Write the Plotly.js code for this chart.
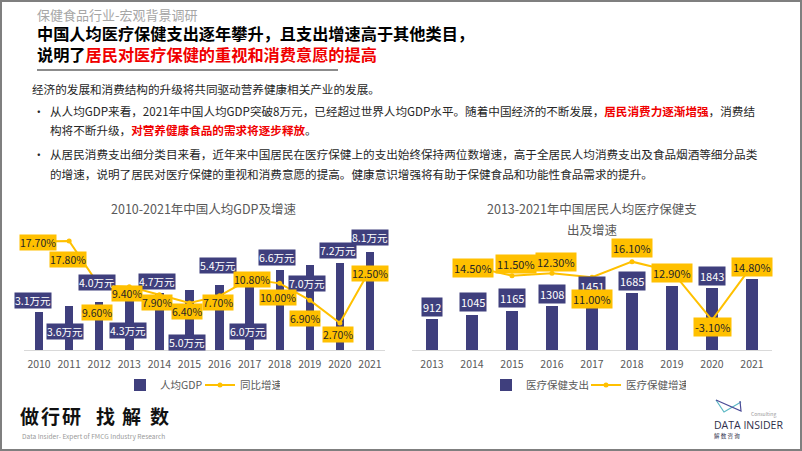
<!DOCTYPE html>
<html><head><meta charset="utf-8">
<script src="https://cdn.plot.ly/plotly-3.0.1.min.js"></script>
<style>html,body{margin:0;padding:0;background:#fff;}#chart{width:802px;height:451px;}</style>
</head><body><div id="chart"></div>
<script>
// ---------- data ----------
const yearsGdp = ['2010','2011','2012','2013','2014','2015','2016','2017','2018','2019','2020','2021'];
const gdpPerCapita = [3.1, 3.6, 4.0, 4.3, 4.7, 5.0, 5.4, 6.0, 6.6, 7.0, 7.2, 8.1];      // 万元
const gdpGrowth = [17.7, 17.8, 9.6, 9.4, 7.9, 6.4, 7.7, 10.8, 10.0, 6.9, 2.7, 12.5];   // %
const yearsMed = ['2013','2014','2015','2016','2017','2018','2019','2020','2021'];
const medSpend = [912, 1045, 1165, 1308, 1451, 1685, 1902, 1843, 2115];                // 元
const medGrowth = [null, 14.5, 11.5, 12.3, 11.0, 16.1, 12.9, -3.1, 14.8];              // %
const gdpLabels = gdpPerCapita.map(v => v.toFixed(1) + '万元');
const gdpGrowthLabels = gdpGrowth.map(v => v.toFixed(2) + '%');
const medLabels = medSpend.map(v => String(v));
const medGrowthLabels = medGrowth.map(v => v === null ? '' : v.toFixed(2) + '%');

// ---------- label offsets (px, layout only; null = label hidden as in the reference) ----------
const gdpLblShift = [[-6,11.5],[-4,-24.6],[-2,19.6],[-1,-33],[-2,12],[-2,-52.5],[-2,18.7],[-2,-53.6],[-3,13],[-3,-17.7],[-2,12],[0,14]];
const gdpGrLblShift = [[-1,-1],[-1,-18],[-2,-26.5],[-2,-6.4],[-2,-8],[-2,-9],[-2,-7],[2,0],[-2,-14.6],[-5,-18],[-2,-11],[0,-4]];
const medLblShift = [[0,12.3],[1,12.8],[0,12.7],[0,11.9],[0,15],[0,12],null,[0,12],null];
const medGrLblShift = [null,[1,-1.5],[4,11.6],[4,11],[0,-22],[0,13.7],[0,-1.6],[0,-7],[0,-1.4]];

// ---------- helpers ----------
const W = 802, H = 451;
const px = x => x / W;
const py = y => 1 - y / H;
const FONT = '"Noto Sans CJK SC", "Noto Sans", sans-serif';
const NAVY = '#3F3F7D';
const GOLD = '#FFC000';
const RED = '#F00000';

const traces = [
  {type:'bar', x:yearsGdp, y:gdpPerCapita, name:'人均GDP', marker:{color:NAVY}, width:0.28,
   xaxis:'x', yaxis:'y', legend:'legend'},
  {type:'scatter', mode:'lines+markers', x:yearsGdp, y:gdpGrowth, name:'同比增速',
   line:{color:GOLD, width:2}, marker:{color:GOLD, size:5}, xaxis:'x', yaxis:'y2', legend:'legend'},
  {type:'bar', x:yearsMed, y:medSpend, name:'医疗保健支出', marker:{color:NAVY}, width:0.31,
   xaxis:'x2', yaxis:'y3', legend:'legend2'},
  {type:'scatter', mode:'lines+markers', x:yearsMed, y:medGrowth, name:'医疗保健增速',
   line:{color:GOLD, width:2}, marker:{color:GOLD, size:5}, xaxis:'x2', yaxis:'y4', legend:'legend2'}
];

const ann = [];
const txt = (x, y, text, size, color, opts) => ann.push(Object.assign({
  xref:'paper', yref:'paper', x:px(x), y:py(y), text:text, showarrow:false,
  xanchor:'left', yanchor:'middle', font:{family:FONT, size:size, color:color}
}, opts || {}));

// header
txt(35, 14.5, '保健食品行业-宏观背景调研', 13, '#A6A6A6');
txt(35, 43.5, '<b>中国人均医疗保健支出逐年攀升，且支出增速高于其他类目，<br>说明了<span style="color:' + RED + '">居民对医疗保健的重视和消费意愿的提高</span></b>', 16.2, '#000000', {align:'left'});

// body text
txt(30, 89, '经济的发展和消费结构的升级将共同驱动营养健康相关产业的发展。', 11.6, '#262626');
txt(31, 110.5, '•', 11.6, '#262626');
txt(48, 110.5, '从人均GDP来看，2021年中国人均GDP突破8万元，已经超过世界人均GDP水平。随着中国经济的不断发展，<b><span style="color:' + RED + '">居民消费力逐渐增强</span></b>，消费结', 11.6, '#262626');
txt(48, 130, '构将不断升级，<b><span style="color:' + RED + '">对营养健康食品的需求将逐步释放</span></b>。', 11.6, '#262626');
txt(31, 153.5, '•', 11.6, '#262626');
txt(48, 153.5, '从居民消费支出细分类目来看，近年来中国居民在医疗保健上的支出始终保持两位数增速，高于全居民人均消费支出及食品烟酒等细分品类', 11.6, '#262626');
txt(48, 174, '的增速，说明了居民对医疗保健的重视和消费意愿的提高。健康意识增强将有助于保健食品和功能性食品需求的提升。', 11.6, '#262626');

// chart titles
txt(204, 209, '2010-2021年中国人均GDP及增速', 12.5, '#595959', {xanchor:'center'});
txt(592, 209, '2013-2021年中国居民人均医疗保健支', 12.5, '#595959', {xanchor:'center'});
txt(592, 229, '出及增速', 12.5, '#595959', {xanchor:'center'});

// data labels (x given as category index)
const lbl = (xref, yref, x, y, text, shift, bg, color, size, pad) => {
  if (!shift || text === '') return;
  ann.push({xref:xref, yref:yref, x:x, y:y, text:text, showarrow:false,
    xanchor:'center', yanchor:'middle', xshift:shift[0], yshift:shift[1],
    bgcolor:bg, borderpad:pad, font:{family:FONT, size:size, color:color}});
};
yearsGdp.forEach((yr, i) => lbl('x', 'y', i, gdpPerCapita[i], gdpLabels[i], gdpLblShift[i], NAVY, '#FFFFFF', 10.5, 0));
yearsMed.forEach((yr, i) => lbl('x2', 'y3', i, medSpend[i], medLabels[i], medLblShift[i], NAVY, '#FFFFFF', 11, 1));
yearsGdp.forEach((yr, i) => lbl('x', 'y2', i, gdpGrowth[i], gdpGrowthLabels[i], gdpGrLblShift[i], GOLD, '#262626', 10.5, 0));
yearsMed.forEach((yr, i) => lbl('x2', 'y4', i, medGrowth[i], medGrowthLabels[i], medGrLblShift[i], GOLD, '#262626', 11, 1));

// footer
const footChars = ['做','行','研','找','解','数'];
const footX = [29, 50, 71, 105, 131, 159];
footChars.forEach((c, i) => txt(footX[i], 415, '<b>' + c + '</b>', 19, '#111111', {xanchor:'center'}));
txt(20, 436, 'Data Insider- Expert of FMCG Industry Research', 6.6, '#9A9A9A');
txt(778, 414, 'Consulting', 5, '#9A9A9A', {xanchor:'right'});
txt(712, 425, 'DATA INSIDER', 10.5, '#2E2E4A', {font:{family:'"Open Sans", sans-serif', size:10.5, color:'#2E2E4A'}});
txt(712, 436, '解 数 咨 询', 5.5, '#2E2E4A');

const path = pts => pts.map((p, i) => (i ? 'L' : 'M') + px(p[0]) + ',' + py(p[1])).join(' ');
const shapes = [
  {type:'rect', xref:'paper', yref:'paper', x0:px(1), x1:px(801), y0:py(1), y1:py(450), line:{color:'#7F7F7F', width:2}},
  {type:'line', xref:'paper', yref:'paper', x0:px(37), x1:px(338), y0:py(70), y1:py(70), line:{color:'#8C8C8C', width:2}},
  {type:'path', xref:'paper', yref:'paper', path:path([[716,400],[724,412],[741,402]]), line:{color:'#5BB8C4', width:1.2}},
  {type:'path', xref:'paper', yref:'paper', path:path([[716,400],[741,411],[740,401]]), line:{color:'#4A4A96', width:1.2}}
];

const legFont = {family:FONT, size:10.5, color:'#595959'};
const layout = {
  width:W, height:H, margin:{l:0, r:0, t:0, b:0}, paper_bgcolor:'#FFFFFF', plot_bgcolor:'rgba(0,0,0,0)',
  showlegend:true, hovermode:false, bargap:0,
  xaxis:{domain:[px(24), px(385)], anchor:'y', type:'category', range:[-0.5, 11.5], showline:true, linecolor:'#D9D9D9',
         linewidth:1, ticks:'', showgrid:false, tickfont:{family:FONT, size:10.5, color:'#595959'}, ticklabelstandoff:4},
  yaxis:{domain:[py(350), py(225)], anchor:'x', range:[0, 10.33], visible:false},
  yaxis2:{overlaying:'y', anchor:'x', range:[-2.27, 20.75], visible:false},
  xaxis2:{domain:[px(412), px(772)], anchor:'y3', type:'category', range:[-0.5, 8.5], showline:true, linecolor:'#D9D9D9',
          linewidth:1, ticks:'', showgrid:false, tickfont:{family:FONT, size:10.5, color:'#595959'}, ticklabelstandoff:4},
  yaxis3:{domain:[py(350), py(225)], anchor:'x2', range:[0, 3709], visible:false},
  yaxis4:{overlaying:'y3', anchor:'x2', range:[-12.96, 28.16], visible:false},
  legend:{orientation:'h', x:px(120), xanchor:'left', y:py(385), yanchor:'middle', font:legFont, bgcolor:'rgba(0,0,0,0)', itemwidth:30, entrywidth:35},
  legend2:{orientation:'h', x:px(486), xanchor:'left', y:py(385), yanchor:'middle', font:legFont, bgcolor:'rgba(0,0,0,0)', itemwidth:30, entrywidth:55},
  annotations:ann, shapes:shapes
};
Plotly.newPlot('chart', traces, layout, {staticPlot:true, displayModeBar:false});
</script></body></html>
